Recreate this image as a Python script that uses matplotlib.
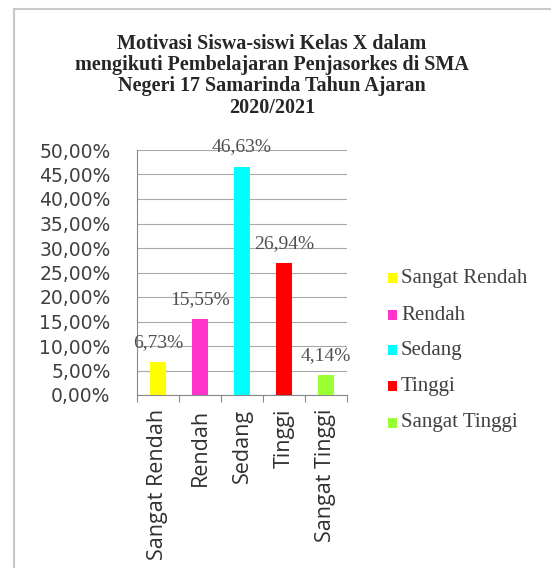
import matplotlib
matplotlib.use("Agg")
import matplotlib.pyplot as plt
from matplotlib.patches import Rectangle
from matplotlib.ticker import FuncFormatter, MultipleLocator

categories = ["Sangat Rendah", "Rendah", "Sedang", "Tinggi", "Sangat Tinggi"]
values = [6.73, 15.55, 46.63, 26.94, 4.14]
colors = ["#FFFF00", "#FF33CC", "#00FFFF", "#FF0000", "#99FF33"]
title = "Motivasi Siswa-siswi Kelas X dalam\nmengikuti Pembelajaran Penjasorkes di SMA\nNegeri 17 Samarinda Tahun Ajaran\n2020/2021"

W, H = 551, 568
fig = plt.figure(figsize=(W / 100, H / 100), dpi=100)

# outer chart frame
fig.patches.append(Rectangle((14 / W, -0.1), 1.2, 1 - 9 / H + 0.1, transform=fig.transFigure,
                             fill=False, edgecolor="#C8C8C8", linewidth=1.5))

ax_left, ax_right = 137, 347
ax_top, ax_bottom = 150, 395
ax = fig.add_axes([ax_left / W, 1 - ax_bottom / H, (ax_right - ax_left) / W, (ax_bottom - ax_top) / H])

x = list(range(len(categories)))
bars = ax.bar(x, values, width=0.4, color=colors, zorder=3)
ax.set_xlim(-0.5, len(categories) - 0.5)
ax.set_ylim(0, 50)
ax.yaxis.set_major_locator(MultipleLocator(5))
ax.yaxis.set_major_formatter(FuncFormatter(lambda v, p: f"{v:.2f}%".replace(".", ",")))
ax.grid(axis="y", color="#A8A8A8", linewidth=0.8, zorder=0)
for s in ["top", "right"]:
    ax.spines[s].set_visible(False)
ax.spines["bottom"].set_color("#888888")
ax.spines["left"].set_color("#888888")
ax.tick_params(axis="y", length=0, pad=19, labelsize=13.5, labelcolor="#404040")
ax.set_xticks([i - 0.5 for i in range(len(categories) + 1)], minor=False)
ax.set_xticklabels([])
ax.set_xticks(x, minor=True)
ax.set_xticklabels(categories, minor=True, rotation=90, fontsize=15.5, color="#303030")
ax.tick_params(axis="x", which="major", length=5, color="#888888", direction="out")
ax.tick_params(axis="x", which="minor", length=0, pad=10)
for lbl in ax.get_yticklabels():
    lbl.set_family(["DejaVu Sans"])
for lbl in ax.get_xticklabels(minor=True):
    lbl.set_family(["Open Sans", "DejaVu Sans"])

for xi, v in zip(x, values):
    ax.annotate(f"{v:.2f}%".replace(".", ","), (xi, v), xytext=(0, 14), textcoords="offset points",
                ha="center", va="center", fontsize=14, family="Liberation Serif", color="#505050",
                annotation_clip=False)

fig.text(272 / W, 1 - 34 / H, title, ha="center", va="top", fontsize=14.5, fontweight="bold",
         family="Liberation Serif", color="#262626", linespacing=1.08)

# legend
leg_y = [278, 315, 350, 386, 423]
for c, name, yy in zip(colors, categories, leg_y):
    fig.patches.append(Rectangle((388 / W, 1 - (yy + 5) / H), 9 / W, 10 / H, transform=fig.transFigure,
                                 facecolor=c, edgecolor="none"))
    fig.text(401 / W, 1 - yy / H, name, ha="left", va="center", fontsize=15,
             family="Liberation Serif", color="#404040")

fig.savefig("out.png", dpi=100, facecolor="white")
